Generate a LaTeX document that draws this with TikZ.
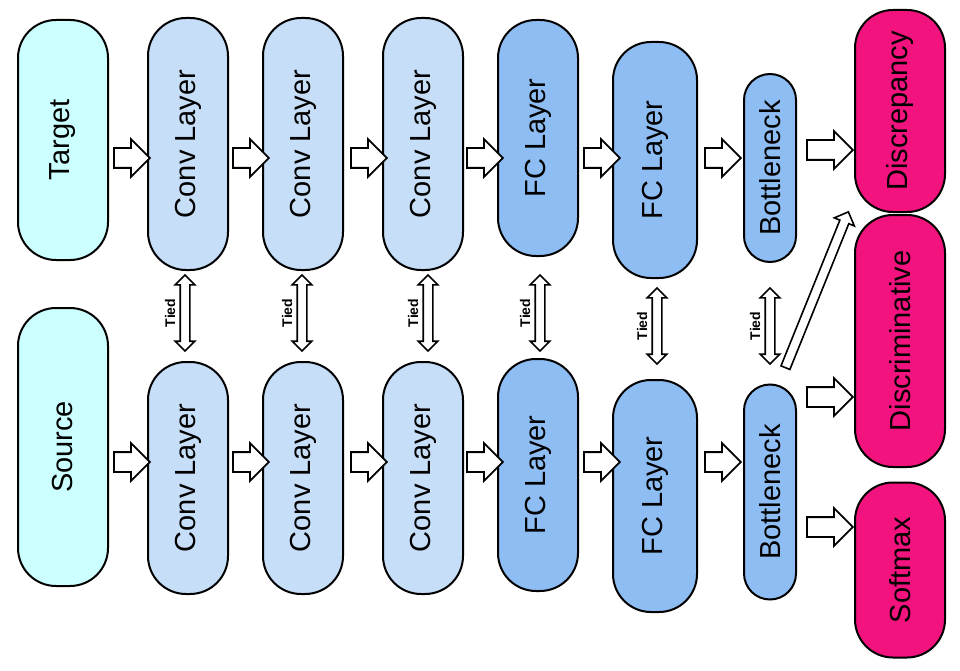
\documentclass[tikz,border=0pt]{standalone}
\usepackage{fontspec}
\setmainfont{Liberation Sans}
\usetikzlibrary{shapes.arrows}
\definecolor{cyanfill}{HTML}{CCFFFF}
\definecolor{convfill}{HTML}{C6DEF8}
\definecolor{fcfill}{HTML}{8EBDF4}
\definecolor{pinkfill}{HTML}{F2137E}
\begin{document}
\begin{tikzpicture}
  [
    x=1pt, y=-1pt,
    layer/.style={
       draw=black,
       line width=2pt,
       rounded corners=38pt,
       minimum width=#1,
       inner sep=0pt,
       font=\fontsize{29}{29}\selectfont
    },
    fat/.style={
       single arrow,
       draw=black,
       line width=1.8pt,
       fill=white,
       inner xsep=0pt,
       inner ysep=9pt,
       single arrow head extend=9pt,
       minimum height=36pt
    },
    tied/.style={
       double arrow,
       draw=black,
       line width=1.6pt,
       fill=white,
       inner xsep=0pt,
       inner ysep=4pt,
       double arrow head extend=5pt,
       minimum height=76pt,
       rotate=90
    },
    tlab/.style={
       font=\bfseries\fontsize{14}{14}\selectfont,
       rotate=90
    }
  ]
  \useasboundingbox (0,0) rectangle (960,671);
  % input nodes
  \node (tgt) at (63,140) [layer=240pt, fill=cyanfill, minimum height=90pt, rotate=90] {Target};
  \node (src) at (63,447) [layer=278pt, fill=cyanfill, minimum height=90pt, rotate=90] {Source};
  % top stream
  \node (tc1) at (188,144) [layer=252pt, fill=convfill, minimum height=80pt, rotate=90] {Conv Layer};
  \node (tc2) at (303,144) [layer=252pt, fill=convfill, minimum height=80pt, rotate=90] {Conv Layer};
  \node (tc3) at (423,144) [layer=252pt, fill=convfill, minimum height=80pt, rotate=90] {Conv Layer};
  \node (tf1) at (538,138) [layer=236pt, fill=fcfill, minimum height=80pt, rotate=90] {FC Layer};
  \node (tf2) at (655,160) [layer=236pt, fill=fcfill, minimum height=84pt, rotate=90] {FC Layer};
  \node (tb)  at (770,168) [layer=188pt, fill=fcfill, minimum height=52pt, rotate=90, rounded corners=26pt] {Bottleneck};
  % bottom stream
  \node (sc1) at (188,478) [layer=232pt, fill=convfill, minimum height=80pt, rotate=90] {Conv Layer};
  \node (sc2) at (303,478) [layer=232pt, fill=convfill, minimum height=80pt, rotate=90] {Conv Layer};
  \node (sc3) at (423,478) [layer=232pt, fill=convfill, minimum height=80pt, rotate=90] {Conv Layer};
  \node (sf1) at (538,475) [layer=232pt, fill=fcfill, minimum height=80pt, rotate=90] {FC Layer};
  \node (sf2) at (655,496) [layer=232pt, fill=fcfill, minimum height=84pt, rotate=90] {FC Layer};
  \node (sb)  at (770,492) [layer=215pt, fill=fcfill, minimum height=52pt, rotate=90, rounded corners=26pt] {Bottleneck};
  % losses
  \node (dsc) at (900,111) [layer=202pt, fill=pinkfill, minimum height=90pt, rotate=90] {Discrepancy};
  \node (dis) at (900,341) [layer=252pt, fill=pinkfill, minimum height=90pt, rotate=90] {Discriminative};
  \node (smx) at (900,570) [layer=175pt, fill=pinkfill, minimum height=90pt, rotate=90] {Softmax};

  % forward arrows
  \node (a1) at (127,158) [fat] {};
  \node (a2) at (246,158) [fat] {};
  \node (a3) at (364,158) [fat] {};
  \node (a4) at (480,158) [fat] {};
  \node (a5) at (597,158) [fat] {};
  \node (a6) at (718,158) [fat] {};
  \node (a7) at (825,150) [fat, minimum height=46pt] {};
  \node (b1) at (127,462) [fat] {};
  \node (b2) at (246,462) [fat] {};
  \node (b3) at (364,462) [fat] {};
  \node (b4) at (480,462) [fat] {};
  \node (b5) at (597,462) [fat] {};
  \node (b6) at (718,462) [fat] {};
  \node (b7) at (825,397) [fat, minimum height=46pt] {};
  \node (b8) at (825,527) [fat, minimum height=46pt] {};
  \node (dg) at (816,292) [single arrow, draw=black, line width=1.6pt, fill=white,
        inner xsep=0pt, inner ysep=4pt, single arrow head extend=6pt,
        minimum height=168pt, rotate=68] {};

  % tied weights
  \foreach \n/\x/\y in {t1/185/313, t2/302/313, t3/428/313, t4/540/313, t5/657/326, t6/770/326}{
    \node (\n) at (\x,\y) [tied] {};
    \node at (\x-15,\y) [tlab] {Tied};
  }
\end{tikzpicture}
\end{document}
